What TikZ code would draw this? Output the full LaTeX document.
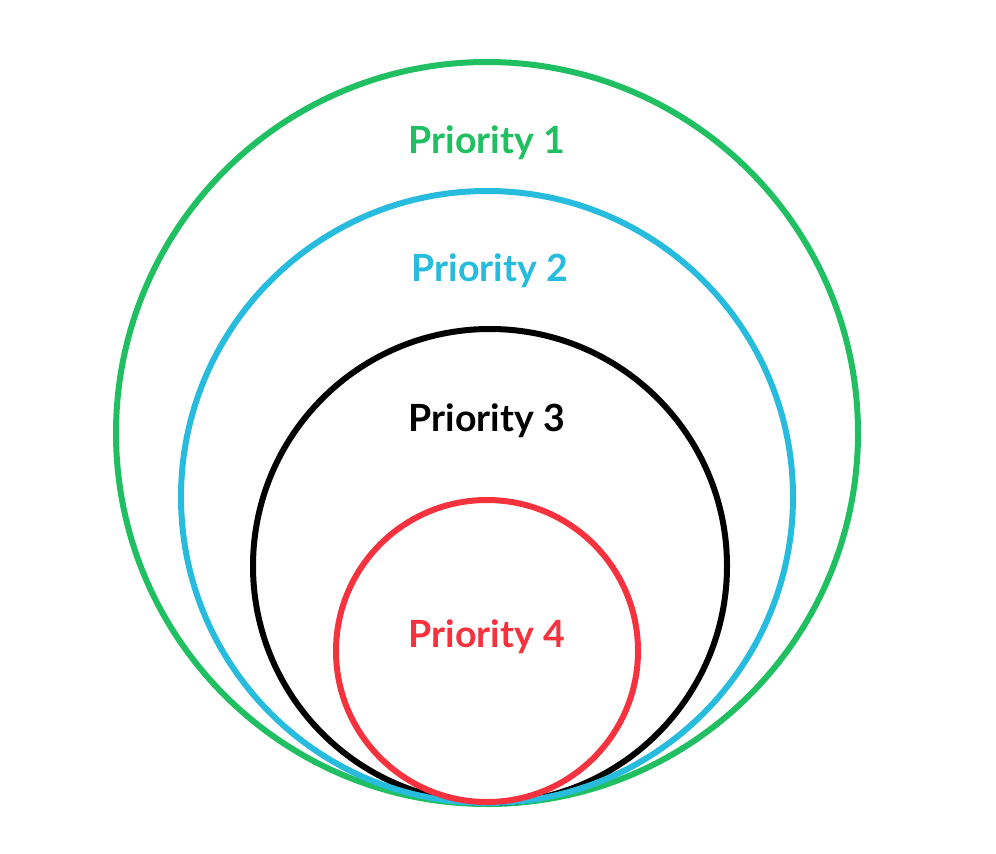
\documentclass[tikz,border=0pt]{standalone}
\usepackage{fontspec}
\setmainfont{Lato}
\usetikzlibrary{positioning}
\definecolor{ringgreen}{HTML}{1FBF62}
\definecolor{ringblue}{HTML}{27BCDD}
\definecolor{ringred}{HTML}{F5323E}
\definecolor{ringblack}{HTML}{000000}
\begin{document}
\begin{tikzpicture}[x=1pt, y=-1pt,
    ring/.style={line width=6pt},
    tag/.style={font=\fontsize{37.5}{42}\selectfont\bfseries, inner sep=0pt}]
    \useasboundingbox (0,0) rectangle (996,854);

    % circles, all touching at the bottom
    \foreach \col/\cx/\cy/\r in {ringgreen/487/433/371, ringblack/490/566/237, ringblue/487/497/306, ringred/487/651/151} {
        \draw[ring, \col] (\cx, \cy) circle (\r);
    }

    % labels
    \node[tag, text=ringgreen] (p1) at (487, 143) {Priority 1};
    \node[tag, text=ringblue] (p2) at (490, 271) {Priority 2};
    \node[tag, text=ringblack] (p3) at (487, 421) {Priority 3};
    \node[tag, text=ringred] (p4) at (487, 637) {Priority 4};
\end{tikzpicture}
\end{document}
